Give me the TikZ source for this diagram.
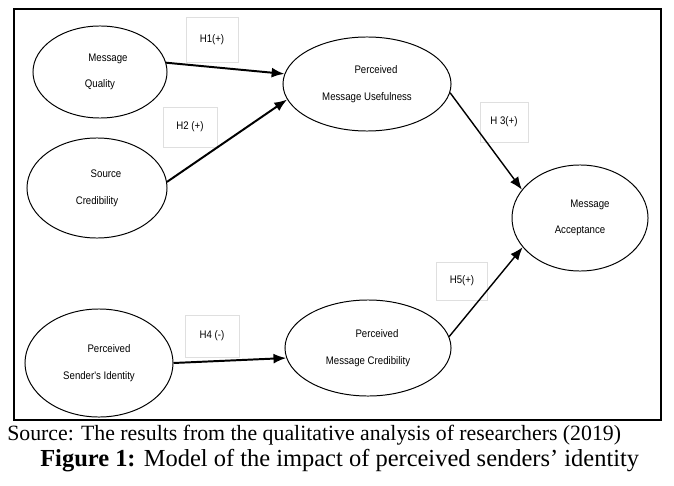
\documentclass[tikz,border=0pt]{standalone}
\usepackage{fontspec}
\setmainfont{Liberation Serif}
\newfontfamily\labelfont[FakeStretch=0.88]{Liberation Sans}
\usetikzlibrary{shapes.geometric,arrows.meta}

\begin{document}
\begin{tikzpicture}[x=0.025cm, y=-0.025cm,
  construct/.style={draw, ellipse, line width=0.7pt, inner sep=0pt, align=center, font=\labelfont\fontsize{7.8}{19}\selectfont},
  hyp/.style={draw=gray!25, line width=0.4pt, inner sep=0pt, font=\labelfont\fontsize{7.8}{9}\selectfont},
  link/.style={-{Latex[length=3.2mm,width=2.5mm]}, line width=1.4pt},
  thinlink/.style={-{Latex[length=3.2mm,width=2.5mm]}, line width=1pt}]
  \useasboundingbox (0,0) rectangle (674,485);
  \draw[line width=2.1pt] (14,9) rectangle (661,420);

  \node[construct, minimum width=3.35cm, minimum height=2.3cm] (mq) at (100,72) {\hspace*{0.4cm}Message\\Quality};
  \node[construct, minimum width=3.5cm, minimum height=2.5cm] (sc) at (97,188) {\hspace*{0.45cm}Source\\Credibility};
  \node[construct, minimum width=4.2cm, minimum height=2.35cm] (mpu) at (367,84) {\hspace*{0.45cm}Perceived\\Message Usefulness};
  \node[construct, minimum width=3.4cm, minimum height=2.65cm] (ma) at (580,218) {\hspace*{0.5cm}Message\\Acceptance};
  \node[construct, minimum width=3.7cm, minimum height=2.7cm] (si) at (99,363) {\hspace*{0.5cm}Perceived\\Sender's Identity};
  \node[construct, minimum width=4.15cm, minimum height=2.4cm] (mcr) at (368,348) {\hspace*{0.45cm}Perceived\\Message Credibility};

  \node[hyp, minimum width=1.3cm, minimum height=1.12cm] (h1) at (212,40) {H1(+)};
  \node[hyp, minimum width=1.35cm, minimum height=1cm] (h2) at (190,127) {H2 (+)};
  \node[hyp, minimum width=1.2cm, minimum height=1cm] (h3) at (504,122) {H 3(+)};
  \node[hyp, minimum width=1.35cm, minimum height=1.05cm] (h4) at (212,336) {H4 (-)};
  \node[hyp, minimum width=1.28cm, minimum height=0.95cm] (h5) at (462,281) {H5(+)};

  \draw[link] (mq.8) -- (mpu.173);
  \draw[link] (sc.5) -- (mpu.191);
  \draw[thinlink] (mpu.-6) -- (ma.154);
  \draw[link] (si.0) -- (mcr.187);
  \draw[thinlink] (mcr.8) -- (ma.207);

  \node[anchor=west, inner sep=0pt, font=\fontsize{15.5}{17}\selectfont] (source) at (7,435) {Source: The results from the qualitative analysis of researchers (2019)};
  \node[anchor=west, inner sep=0pt, font=\fontsize{17.4}{19}\selectfont] (caption) at (40,461) {\textbf{Figure 1:} Model of the impact of perceived senders’ identity};
\end{tikzpicture}
\end{document}
